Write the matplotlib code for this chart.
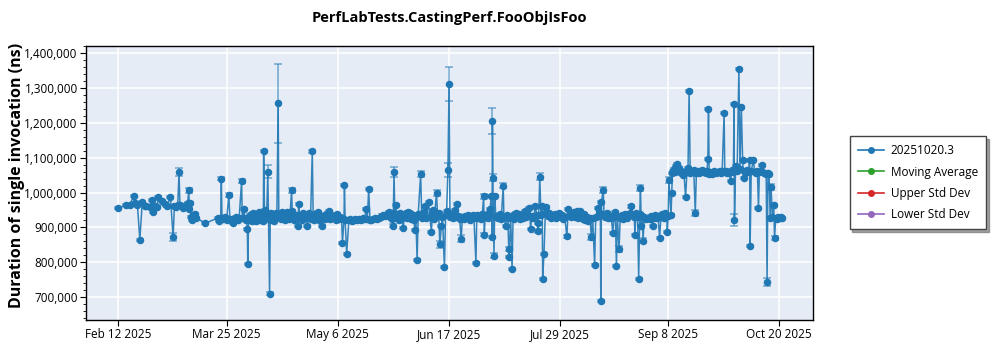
import matplotlib
matplotlib.use("Agg")
import matplotlib.pyplot as plt
import matplotlib.dates as mdates
from matplotlib.ticker import FuncFormatter, AutoMinorLocator, FixedLocator
import pandas as pd
import numpy as np

plt.rcParams["font.family"] = ["Open Sans", "DejaVu Sans"]

TITLE = "PerfLabTests.CastingPerf.FooObjIsFoo"
Y_LABEL = "Duration of single invocation (ns)"
SERIES = "20251020.3"
OTHER_SERIES = ["Moving Average", "Upper Std Dev", "Lower Std Dev"]

# ---- run timestamps ("MM-DD HH", year 2025) and durations (thousands of ns) ----
feb_dates = ["02-12 00", "02-15 00", "02-16 08", "02-17 20", "02-18 04", "02-19 06", "02-20 04", "02-21 02",
             "02-22 00", "02-22 16", "02-23 20", "02-24 14", "02-25 00", "02-25 20", "02-26 18", "02-27 02",
             "02-28 14"]
feb_vals = [955, 964, 965, 990, 970, 964, 864, 974,
            960, 961, 958, 979, 944, 962, 958, 987,
            977]

mar_dates = ["03-01 12", "03-02 12", "03-03 18", "03-04 18", "03-05 06", "03-05 20", "03-06 12", "03-07 00",
             "03-07 08", "03-08 00", "03-08 16", "03-09 12", "03-10 06", "03-10 16", "03-10 22", "03-11 06",
             "03-11 12", "03-12 00", "03-12 12", "03-13 00", "03-13 12", "03-17 00", "03-21 16", "03-22 06",
             "03-22 18", "03-23 00", "03-23 06", "03-23 18", "03-24 12", "03-25 00", "03-25 20", "03-26 06",
             "03-27 06", "03-27 18", "03-28 12", "03-29 06", "03-29 18", "03-30 16", "03-30 22", "03-31 12",
             "03-31 20"]
mar_vals = [968, 962, 987, 872, 962, 958, 965, 1059,
            963, 960, 957, 963, 970, 1006, 952, 970,
            931, 922, 935, 939, 927, 912, 927, 918,
            926, 1040, 927, 924, 931, 922, 993, 924,
            912, 925, 930, 921, 928, 1033, 928, 952,
            926]

apr_dates = ["04-01 12", "04-01 20", "04-02 00", "04-02 08", "04-02 18", "04-03 04", "04-03 14", "04-03 22",
             "04-04 08", "04-04 18", "04-05 04", "04-05 14", "04-05 22", "04-06 08", "04-06 18", "04-07 04",
             "04-07 14", "04-07 22", "04-08 00", "04-08 08", "04-08 16", "04-09 04", "04-09 14", "04-09 20",
             "04-10 06", "04-10 12", "04-10 20", "04-11 06", "04-11 16", "04-12 02", "04-12 12", "04-13 00",
             "04-13 12", "04-13 18", "04-14 04", "04-14 14", "04-14 22", "04-15 08", "04-15 18", "04-16 04",
             "04-16 16", "04-17 04", "04-17 14", "04-18 00", "04-18 14", "04-18 20", "04-19 06", "04-19 16",
             "04-20 04", "04-20 14", "04-21 00", "04-21 06", "04-21 16", "04-22 04", "04-22 14", "04-23 00",
             "04-23 12", "04-24 00", "04-24 14", "04-24 22", "04-25 08", "04-25 18", "04-26 10", "04-26 18",
             "04-27 04", "04-27 14", "04-28 00", "04-28 12", "04-29 00", "04-29 12", "04-30 04", "04-30 14"]
apr_vals = [922, 895, 796, 920, 935, 928, 918, 940,
            925, 932, 919, 936, 927, 943, 922, 930,
            917, 938, 1120, 950, 928, 940, 1060, 935,
            710, 922, 940, 928, 933, 919, 942, 929,
            1256, 930, 938, 924, 945, 926, 935, 921,
            944, 930, 925, 939, 1006, 946, 929, 920,
            936, 927, 903, 968, 928, 934, 922, 940,
            926, 932, 905, 930, 941, 924, 1118, 931,
            922, 937, 926, 944, 920, 934, 903, 930]

may_dates = ["05-01 04", "05-01 16", "05-02 06", "05-02 16", "05-03 04", "05-03 16", "05-04 06", "05-04 18",
             "05-05 08", "05-05 20", "05-06 10", "05-06 22", "05-07 12", "05-07 20", "05-08 10", "05-08 14",
             "05-08 20", "05-09 10", "05-10 06", "05-10 18", "05-11 12", "05-12 06", "05-12 18", "05-13 12",
             "05-14 06", "05-14 18", "05-15 12", "05-16 06", "05-16 18", "05-17 06", "05-17 18", "05-18 06",
             "05-18 18", "05-19 12", "05-20 06", "05-20 18", "05-21 12", "05-22 06", "05-22 18", "05-23 06",
             "05-23 18", "05-24 06", "05-24 18", "05-25 10", "05-25 22", "05-26 12", "05-26 22", "05-27 00",
             "05-27 08", "05-27 16", "05-28 00", "05-28 12", "05-28 22", "05-29 08", "05-29 18", "05-30 06",
             "05-30 20", "05-31 06", "05-31 18"]
may_vals = [925, 939, 928, 948, 924, 936, 927, 932,
            921, 938, 925, 930, 926, 855, 925, 1022,
            922, 824, 920, 923, 918, 922, 925, 920,
            924, 921, 926, 923, 952, 925, 1010, 920,
            922, 924, 926, 923, 928, 930, 934, 936,
            932, 935, 938, 943, 930, 925, 940, 905,
            1060, 931, 965, 928, 937, 922, 940, 926,
            897, 933, 940]

jun_dates = ["06-01 06", "06-01 18", "06-02 08", "06-02 20", "06-03 08", "06-03 20", "06-04 06", "06-04 14",
             "06-05 02", "06-05 12", "06-06 10", "06-06 20", "06-07 08", "06-07 20", "06-08 00", "06-08 12",
             "06-09 10", "06-09 20", "06-10 12", "06-10 20", "06-11 02", "06-11 14", "06-12 10", "06-12 20",
             "06-13 06", "06-13 16", "06-14 06", "06-14 16", "06-15 10", "06-15 20", "06-16 06", "06-16 18",
             "06-17 04", "06-17 12", "06-18 04", "06-18 16", "06-19 08", "06-19 20", "06-20 04", "06-20 14",
             "06-21 04", "06-21 18", "06-22 06", "06-22 18", "06-23 08", "06-23 20", "06-24 10", "06-24 22",
             "06-25 12", "06-26 02", "06-26 14", "06-27 08", "06-27 16", "06-28 04", "06-28 16", "06-29 06",
             "06-29 18", "06-30 06", "06-30 12", "06-30 20"]
jun_vals = [928, 945, 941, 924, 935, 921, 893, 930,
            806, 938, 1054, 927, 935, 943, 960, 928,
            972, 931, 888, 938, 950, 925, 999, 932,
            940, 851, 903, 930, 786, 935, 947, 1066,
            1312, 930, 937, 926, 950, 929, 968, 934,
            925, 868, 931, 924, 933, 927, 936, 922,
            930, 935, 926, 799, 936, 928, 933, 924,
            938, 989, 879, 929]

jul_dates = ["07-01 08", "07-01 20", "07-02 06", "07-02 16", "07-03 04", "07-03 10", "07-03 14", "07-03 18",
             "07-04 04", "07-04 12", "07-04 20", "07-05 08", "07-05 20", "07-06 10", "07-06 22", "07-07 16",
             "07-07 22", "07-08 14", "07-08 22", "07-09 10", "07-09 20", "07-10 00", "07-10 12", "07-11 00",
             "07-11 10", "07-11 22", "07-12 12", "07-13 02", "07-13 14", "07-14 04", "07-14 16", "07-15 08",
             "07-15 20", "07-16 08", "07-16 20", "07-17 14", "07-18 00", "07-18 12", "07-19 02", "07-19 20",
             "07-20 08", "07-20 18", "07-20 22", "07-21 12", "07-21 22", "07-22 10", "07-22 14", "07-23 02",
             "07-23 14", "07-24 00", "07-24 12", "07-25 02", "07-25 14", "07-26 04", "07-26 16", "07-27 06",
             "07-27 18", "07-28 08", "07-28 20", "07-29 10", "07-29 22", "07-30 10", "07-30 22", "07-31 18"]
jul_vals = [935, 927, 940, 953, 991, 872, 1206, 1043,
            819, 991, 930, 934, 926, 938, 924, 1020,
            931, 905, 936, 927, 816, 838, 929, 781,
            935, 925, 940, 930, 937, 924, 932, 928,
            946, 930, 938, 955, 896, 933, 927, 960,
            935, 912, 890, 1046, 936, 960, 753, 824,
            940, 958, 933, 941, 928, 935, 930, 938,
            926, 932, 940, 929, 935, 924, 930, 874]

aug_dates = ["08-01 06", "08-01 18", "08-02 08", "08-02 20", "08-03 10", "08-03 22", "08-04 10", "08-04 22",
             "08-05 14", "08-06 04", "08-06 16", "08-07 06", "08-07 18", "08-08 08", "08-08 20", "08-09 12",
             "08-10 00", "08-10 12", "08-11 06", "08-11 16", "08-12 10", "08-12 20", "08-13 10", "08-13 14",
             "08-13 20", "08-14 12", "08-14 20", "08-15 08", "08-15 20", "08-16 10", "08-16 22", "08-17 12",
             "08-18 04", "08-18 14", "08-19 02", "08-19 12", "08-19 20", "08-20 12", "08-20 22", "08-21 10",
             "08-21 22", "08-22 10", "08-22 22", "08-23 12", "08-24 00", "08-24 12", "08-25 04", "08-25 16",
             "08-26 06", "08-26 12", "08-26 22", "08-27 12", "08-27 22", "08-28 08", "08-28 14", "08-28 22",
             "08-29 06", "08-29 14", "08-30 00", "08-30 12"]
aug_vals = [952, 935, 929, 940, 944, 931, 946, 928,
            948, 932, 925, 937, 922, 930, 918, 926,
            872, 928, 792, 931, 956, 933, 940, 689,
            974, 1008, 935, 929, 941, 926, 934, 928,
            884, 930, 943, 788, 932, 838, 927, 935,
            925, 931, 939, 928, 934, 940, 960, 936,
            929, 878, 941, 931, 752, 938, 1013, 903,
            933, 862, 930, 925]

sep_dates = ["09-01 06", "09-01 18", "09-02 04", "09-02 14", "09-03 04", "09-03 16", "09-04 06", "09-04 20",
             "09-05 08", "09-05 20", "09-06 10", "09-06 22", "09-07 12", "09-07 18", "09-08 02", "09-08 08",
             "09-09 04", "09-09 10", "09-09 16", "09-09 22", "09-10 08", "09-10 18", "09-11 04", "09-11 10",
             "09-11 18", "09-12 04", "09-12 14", "09-13 02", "09-13 12", "09-14 00", "09-14 16", "09-15 04",
             "09-15 14", "09-16 00", "09-16 10", "09-16 20", "09-17 08", "09-17 18", "09-18 08", "09-18 18",
             "09-19 06", "09-19 18", "09-20 06", "09-20 18", "09-21 06", "09-21 18", "09-22 06", "09-22 18",
             "09-23 02", "09-23 08", "09-23 14", "09-24 00", "09-24 12", "09-25 00", "09-25 12", "09-26 00",
             "09-26 12", "09-27 00", "09-27 12", "09-28 00", "09-28 12", "09-29 06", "09-29 12", "09-30 00",
             "09-30 12"]
sep_vals = [925, 932, 903, 928, 935, 926, 931, 870,
            930, 937, 928, 940, 932, 888, 934, 1036,
            936, 998, 1055, 1062, 1068, 1058, 1075, 1082,
            1065, 1070, 1058, 1062, 1050, 1060, 986, 1058,
            1070, 1292, 1055, 1062, 1058, 1064, 941, 1057,
            1062, 1055, 1060, 1066, 1058, 1063, 1056, 1061,
            1097, 1241, 1054, 1059, 1052, 1057, 1062, 1056,
            1060, 1058, 1063, 1057, 1061, 1229, 1058, 1063,
            1055]

oct_dates = ["10-01 00", "10-01 16", "10-02 06", "10-02 18", "10-03 00", "10-03 04", "10-03 14", "10-04 04",
             "10-04 20", "10-05 06", "10-05 18", "10-06 06", "10-06 14", "10-06 22", "10-07 10", "10-07 22",
             "10-08 10", "10-08 22", "10-09 02", "10-09 12", "10-10 08", "10-10 18", "10-11 08", "10-11 20",
             "10-12 06", "10-12 14", "10-13 04", "10-13 16", "10-14 04", "10-14 16", "10-15 04", "10-15 12",
             "10-15 20", "10-16 06", "10-16 16", "10-17 00", "10-17 12", "10-18 00", "10-18 08", "10-18 18",
             "10-19 06", "10-19 18", "10-20 06", "10-20 18", "10-21 06"]
oct_vals = [1060, 1032, 1066, 1058, 1254, 920, 1077, 1062,
            1355, 1068, 1247, 1094, 1041, 1063, 1060, 1066,
            1058, 1094, 846, 1062, 1094, 1060, 1056, 1063,
            955, 1058, 1061, 1080, 1057, 1055, 1052, 744,
            1055, 1054, 927, 1016, 930, 963, 869, 928,
            925, 931, 926, 929, 927]

# error-bar half widths (thousands of ns); runs not listed use the base value
base_err_k = 3
err_dates = ["03-04 18", "03-07 00", "03-10 16", "03-23 00", "03-25 20", "03-30 16", "04-09 14", "04-13 12",
             "04-18 14", "05-27 00", "05-27 08", "06-06 10", "06-12 10", "06-13 16", "06-16 18", "06-17 04",
             "06-21 18", "06-30 06", "06-30 12", "07-03 14", "07-03 18", "07-04 04", "07-07 16", "07-10 00",
             "07-20 22", "07-21 12", "07-31 18", "08-10 00", "08-14 12", "08-20 12", "08-28 14", "08-29 14",
             "09-08 08", "09-18 08", "10-03 04", "10-15 12", "10-17 00", "10-18 08"]
err_k = [11, 12, 8, 5, 6, 5, 19, 113,
         8, 5, 14, 8, 8, 10, 20, 50,
         10, 7, 5, 37, 10, 6, 7, 6,
         5, 10, 5, 8, 9, 9, 9, 8,
         8, 8, 17, 12, 8, 6]

x_tick_dates = ["2025-02-12", "2025-03-25", "2025-05-06", "2025-06-17", "2025-07-29", "2025-09-08", "2025-10-20"]
y_ticks = [700000, 800000, 900000, 1000000, 1100000, 1200000, 1300000, 1400000]

# ---------------------------------------------------------------------------
all_dates = feb_dates + mar_dates + apr_dates + may_dates + jun_dates + jul_dates + aug_dates + sep_dates + oct_dates
all_vals = feb_vals + mar_vals + apr_vals + may_vals + jun_vals + jul_vals + aug_vals + sep_vals + oct_vals
assert len(all_dates) == len(all_vals)
assert len(err_dates) == len(err_k)

x = pd.to_datetime(["2025-" + d for d in all_dates], format="%Y-%m-%d %H")
y = np.array(all_vals, dtype=float) * 1000
err_map = dict(zip(err_dates, err_k))
yerr = np.array([err_map.get(d, base_err_k) for d in all_dates], dtype=float) * 1000

fig = plt.figure(figsize=(10, 3.5), dpi=100)
ax = fig.add_axes([0.086, 0.0857, 0.727, 0.783])
ax.set_facecolor("#E5ECF6")
ax.grid(True, color="white", linewidth=1.1)
ax.set_axisbelow(True)

blue = "#1f77b4"
ax.errorbar(x, y, yerr=yerr, fmt="none", ecolor=blue, elinewidth=1.1,
            capsize=3, capthick=1.1, alpha=0.6, zorder=2)
ax.plot(x, y, color=blue, linewidth=1.1, alpha=0.9, zorder=3)
ax.plot(x, y, linestyle="none", marker="o", markersize=4.4, color=blue, zorder=4)

handles = [ax.plot([], [], color=blue, marker="o", markersize=4, linewidth=1.2, label=SERIES)[0]]
for name, c in zip(OTHER_SERIES, ["#2ca02c", "#d62728", "#9467bd"]):
    handles.append(ax.plot([], [], color=c, marker="o", markersize=4, linewidth=1.2, label=name)[0])

ax.set_xlim(pd.Timestamp("2025-01-30 19:00"), pd.Timestamp("2025-11-01 21:00"))
ax.set_ylim(634000, 1421000)

ax.xaxis.set_major_locator(FixedLocator(mdates.date2num(pd.to_datetime(x_tick_dates))))
ax.xaxis.set_major_formatter(mdates.DateFormatter("%b %-d %Y"))
ax.yaxis.set_major_locator(FixedLocator(y_ticks))
ax.yaxis.set_major_formatter(FuncFormatter(lambda v, p: f"{int(round(v)):,}"))
ax.yaxis.set_minor_locator(AutoMinorLocator(5))
ax.tick_params(axis="both", which="major", labelsize=8.5, length=4, color="black", pad=2)
ax.tick_params(axis="y", which="minor", length=2)
for s in ax.spines.values():
    s.set_color("black")
    s.set_linewidth(1.0)

fig.text(0.4495, 0.948, TITLE, ha="center", va="center", fontsize=10.5, fontweight="bold")
fig.text(0.017, 0.50, Y_LABEL, ha="center", va="center", rotation=90, fontsize=11.5, fontweight="bold")

leg = fig.legend(handles=handles, loc="center", bbox_to_anchor=(0.918, 0.478), fontsize=8.5,
                 frameon=True, fancybox=False, shadow=True, edgecolor="#444444",
                 handlelength=2.2, labelspacing=0.7, borderpad=0.7, handletextpad=0.6)
leg.get_frame().set_linewidth(1.0)

fig.savefig("out.png", dpi=100, facecolor="white")
